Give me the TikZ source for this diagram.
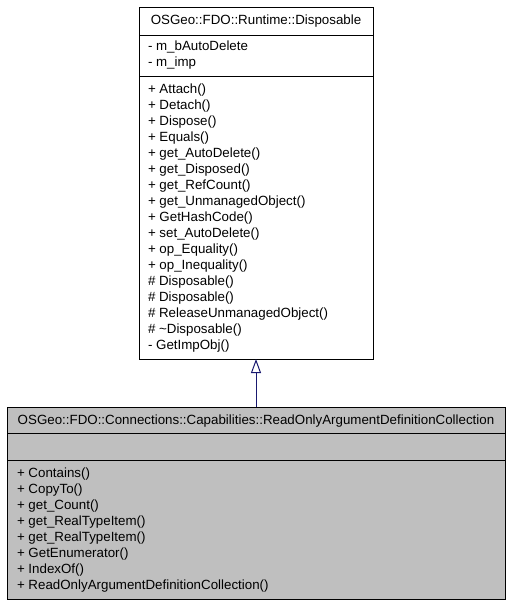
\documentclass[tikz,border=0pt]{standalone}
\usepackage{fontspec}
\setmainfont{Liberation Sans}
\usetikzlibrary{arrows.meta}
\definecolor{classgray}{RGB}{191,191,191}
\definecolor{edgeblue}{RGB}{25,25,112}
\newcommand{\pxunit}{0.75pt}
\begin{document}
\begin{tikzpicture}[x=\pxunit,y=-\pxunit]
\tikzset{every path/.style={line width=\pxunit}}
\tikzset{classbox/.style={draw=black, anchor=north west, inner sep=0pt, outer sep=0pt}}
\tikzset{member/.style={anchor=base west, inner sep=0pt, font=\fontsize{10}{12}\selectfont}}
\tikzset{classtitle/.style={anchor=base, inner sep=0pt, font=\fontsize{10}{12}\selectfont}}
\useasboundingbox (0,0) rectangle (512,605);

    % base class
    \node[classbox, fill=white, minimum width=234*\pxunit, minimum height=351*\pxunit] (disposable) at (139,8) {};
    \draw (139,36) -- (373,36);
    \draw (139,77) -- (373,77);
    \node[classtitle] (disposabletitle) at (256,25) {OSGeo::FDO::Runtime::Disposable};
    \foreach \m [count=\i from 0] in {- m\_bAutoDelete, - m\_imp}
        \node[member] (dispattr\i) at (147.5,51+\i*16) {\m};
    \foreach \m [count=\i from 0] in {+ Attach(), + Detach(), + Dispose(), + Equals(),
        + get\_AutoDelete(), + get\_Disposed(), + get\_RefCount(), + get\_UnmanagedObject(),
        + GetHashCode(), + set\_AutoDelete(), + op\_Equality(), + op\_Inequality(),
        \# Disposable(), \# Disposable(), \# ReleaseUnmanagedObject(),
        \# \textasciitilde Disposable(), - GetImpObj()}
        \node[member] (dispop\i) at (147.5,93.5+\i*16) {\m};

    % derived class
    \node[classbox, fill=classgray, minimum width=498*\pxunit, minimum height=192*\pxunit] (collection) at (7,407) {};
    \draw (7,433) -- (505,433);
    \draw (7,460) -- (505,460);
    \node[classtitle] (collectiontitle) at (256,424) {OSGeo::FDO::Connections::Capabilities::ReadOnlyArgumentDefinitionCollection};
    \foreach \m [count=\i from 0] in {+ Contains(), + CopyTo(), + get\_Count(),
        + get\_RealTypeItem(), + get\_RealTypeItem(), + GetEnumerator(), + IndexOf(),
        + ReadOnlyArgumentDefinitionCollection()}
        \node[member] (collop\i) at (16.5,477+\i*16) {\m};

    % inheritance
    \draw[edgeblue, -{Triangle[open, length=10.5pt, width=7.5pt]}] (collection.north) -- (disposable.south);
\end{tikzpicture}
\end{document}
